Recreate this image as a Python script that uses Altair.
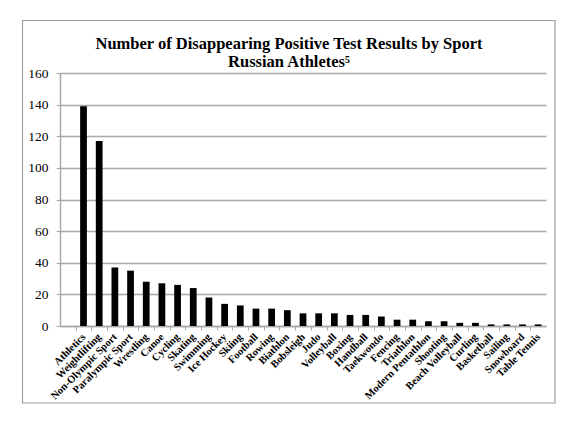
import pandas as pd
import altair as alt

# Values
sports = [
    "Athletics", "Weightlifting", "Non-Olympic Sport", "Paralympic Sport",
    "Wrestling", "Canoe", "Cycling", "Skating", "Swimming", "Ice Hockey",
    "Skiing", "Football", "Rowing", "Biathlon", "Bobsleigh", "Judo",
    "Volleyball", "Boxing", "Handball", "Taekwondo", "Fencing", "Triathlon",
    "Modern Pentathlon", "Shooting", "Beach Volleyball", "Curling",
    "Basketball", "Sailing", "Snowboard", "Table Tennis",
]
counts = [139, 117, 37, 35, 28, 27, 26, 24, 18, 14,
          13, 11, 11, 10, 8, 8, 8, 7, 7, 6,
          4, 4, 3, 3, 2, 2, 1, 1, 1, 1]
y_ticks = [0, 20, 40, 60, 80, 100, 120, 140, 160]

d = pd.DataFrame({"sport": sports, "count": counts})

W, H = 486, 253
STEP = W / 31.0
FONT = "Liberation Serif"
GRAY = "#a8a8a8"

x_scale = alt.Scale(domain=sports, paddingInner=0.57, paddingOuter=0.785, align=0.8185)
y_scale = alt.Scale(domain=(0, 160), nice=False)

bars = (
    alt.Chart(d)
    .mark_bar(color="black")
    .encode(
        x=alt.X("sport:N", sort=None, scale=x_scale, title=None,
                axis=alt.Axis(labelAngle=-45, labelAlign="right", labelBaseline="middle",
                              labelFont=FONT, labelFontWeight="bold", labelFontSize=10.5,
                              labelColor="black", labelPadding=5,
                              tickOffset=-STEP / 2, labelOffset=STEP / 2,
                              tickColor=GRAY, tickSize=4, domainColor=GRAY,
                              domainWidth=1.5, grid=False)),
        y=alt.Y("count:Q", scale=y_scale, title=None,
                axis=alt.Axis(values=y_ticks, labelFont=FONT, labelFontSize=13.5,
                              labelColor="black", labelPadding=8,
                              tickColor=GRAY, tickSize=4, domainColor=GRAY,
                              domainWidth=1.5, gridColor=GRAY, gridWidth=1.5)),
    )
)

# Gray frame round the whole chart, as in the spreadsheet export
frame = (
    alt.Chart(pd.DataFrame({"f": [0]}))
    .mark_rect(fill="white", fillOpacity=0, stroke="#a0a0a0", strokeWidth=1.2)
    .encode(x=alt.value(-37.5), x2=alt.value(495), y=alt.value(-52.5), y2=alt.value(330))
)

chart = (
    alt.layer(frame, bars)
    .properties(
        width=W, height=H,
        autosize=alt.AutoSizeParams(type="none"),
        padding={"left": 52, "top": 65, "right": 21, "bottom": 92},
        title=alt.TitleParams(
            text=["Number of Disappearing Positive Test Results by Sport",
                  "Russian Athletes\u2075"],
            font=FONT, fontSize=16.5, fontWeight="bold", color="black",
            anchor="middle", frame="group", dx=-14, offset=-51, lineHeight=18),
    )
    .configure_view(stroke=None)
)

chart.save("out.html", embed_options={"renderer": "svg", "actions": False})
